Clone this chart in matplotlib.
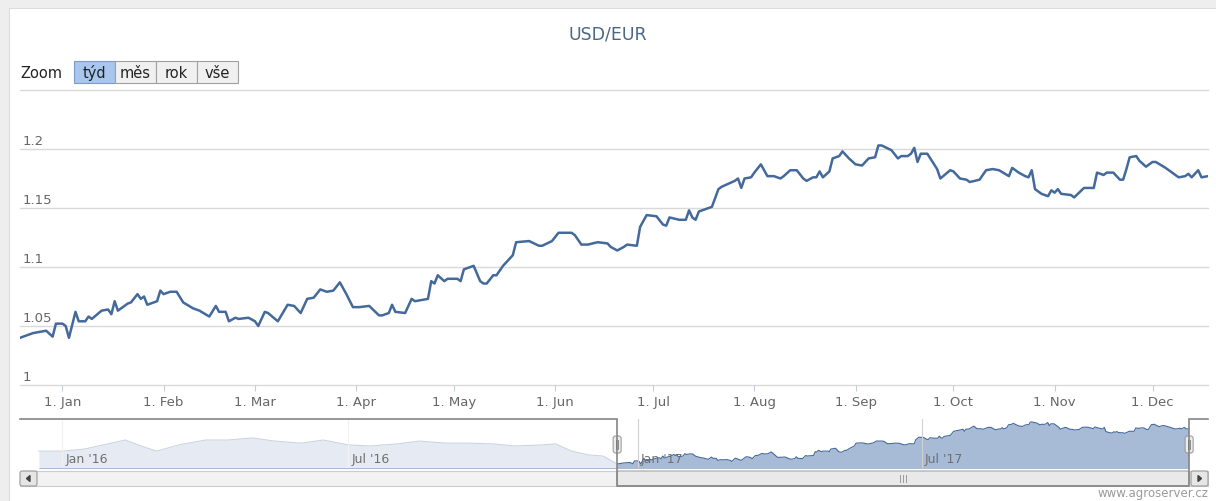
import matplotlib
matplotlib.use("Agg")
import matplotlib.pyplot as plt
import matplotlib.dates as md
from matplotlib.patches import Rectangle, FancyBboxPatch, Polygon
import pandas as pd

# EUR/USD daily rate (visible range Dec 2016 - Dec 2017)
main_dates = [
    "2016-12-19", "2016-12-21", "2016-12-23", "2016-12-27", "2016-12-29", "2016-12-30",
    "2017-01-01", "2017-01-02", "2017-01-03", "2017-01-05", "2017-01-06", "2017-01-08",
    "2017-01-09", "2017-01-10", "2017-01-13", "2017-01-15", "2017-01-16", "2017-01-17",
    "2017-01-18", "2017-01-21", "2017-01-22", "2017-01-24", "2017-01-25", "2017-01-26",
    "2017-01-27", "2017-01-29", "2017-01-30", "2017-01-31", "2017-02-01", "2017-02-03",
    "2017-02-05", "2017-02-07", "2017-02-10", "2017-02-12", "2017-02-15", "2017-02-17",
    "2017-02-18", "2017-02-20", "2017-02-21", "2017-02-23", "2017-02-24", "2017-02-27",
    "2017-03-01", "2017-03-02", "2017-03-04", "2017-03-05", "2017-03-08", "2017-03-11",
    "2017-03-13", "2017-03-15", "2017-03-17", "2017-03-19", "2017-03-21", "2017-03-23",
    "2017-03-25", "2017-03-27", "2017-03-29", "2017-03-31", "2017-04-02", "2017-04-05",
    "2017-04-08", "2017-04-09", "2017-04-11", "2017-04-12", "2017-04-13", "2017-04-16",
    "2017-04-18", "2017-04-19", "2017-04-23", "2017-04-24", "2017-04-25", "2017-04-26",
    "2017-04-28", "2017-04-29", "2017-05-02", "2017-05-03", "2017-05-04", "2017-05-07",
    "2017-05-09", "2017-05-10", "2017-05-11", "2017-05-13", "2017-05-14", "2017-05-16",
    "2017-05-19", "2017-05-20", "2017-05-24", "2017-05-27", "2017-05-28", "2017-05-31",
    "2017-06-02", "2017-06-06", "2017-06-07", "2017-06-09", "2017-06-11", "2017-06-14",
    "2017-06-17", "2017-06-18", "2017-06-20", "2017-06-22", "2017-06-23", "2017-06-26",
    "2017-06-27", "2017-06-29", "2017-07-02", "2017-07-04", "2017-07-05", "2017-07-06",
    "2017-07-09", "2017-07-11", "2017-07-12", "2017-07-13", "2017-07-14", "2017-07-15",
    "2017-07-19", "2017-07-21", "2017-07-22", "2017-07-26", "2017-07-27", "2017-07-28",
    "2017-07-29", "2017-07-31", "2017-08-01", "2017-08-03", "2017-08-05", "2017-08-07",
    "2017-08-09", "2017-08-10", "2017-08-12", "2017-08-14", "2017-08-16", "2017-08-17",
    "2017-08-19", "2017-08-20", "2017-08-21", "2017-08-22", "2017-08-24", "2017-08-25",
    "2017-08-27", "2017-08-28", "2017-08-30", "2017-09-01", "2017-09-03", "2017-09-05",
    "2017-09-07", "2017-09-08", "2017-09-09", "2017-09-12", "2017-09-14", "2017-09-15",
    "2017-09-17", "2017-09-18", "2017-09-19", "2017-09-20", "2017-09-21", "2017-09-23",
    "2017-09-26", "2017-09-27", "2017-09-30", "2017-10-01", "2017-10-03", "2017-10-05",
    "2017-10-06", "2017-10-09", "2017-10-11", "2017-10-13", "2017-10-15", "2017-10-18",
    "2017-10-19", "2017-10-21", "2017-10-23", "2017-10-24", "2017-10-25", "2017-10-26",
    "2017-10-28", "2017-10-30", "2017-10-31", "2017-11-01", "2017-11-02", "2017-11-03",
    "2017-11-06", "2017-11-07", "2017-11-10", "2017-11-13", "2017-11-14", "2017-11-16",
    "2017-11-17", "2017-11-19", "2017-11-21", "2017-11-22", "2017-11-23", "2017-11-24",
    "2017-11-26", "2017-11-27", "2017-11-29", "2017-12-01", "2017-12-02", "2017-12-05",
    "2017-12-09", "2017-12-11", "2017-12-12", "2017-12-13", "2017-12-15", "2017-12-16",
    "2017-12-18",
]
main_values = [
    1.040, 1.042, 1.044, 1.046, 1.041, 1.052,
    1.052, 1.050, 1.040, 1.062, 1.054, 1.054,
    1.058, 1.056, 1.063, 1.064, 1.060, 1.071,
    1.063, 1.069, 1.070, 1.077, 1.073, 1.075,
    1.068, 1.070, 1.071, 1.080, 1.077, 1.079,
    1.079, 1.070, 1.065, 1.063, 1.058, 1.067,
    1.062, 1.062, 1.054, 1.057, 1.056, 1.057,
    1.054, 1.050, 1.062, 1.061, 1.054, 1.068,
    1.067, 1.061, 1.073, 1.074, 1.081, 1.079,
    1.080, 1.087, 1.077, 1.066, 1.066, 1.067,
    1.059, 1.059, 1.061, 1.068, 1.062, 1.061,
    1.073, 1.071, 1.073, 1.088, 1.086, 1.093,
    1.088, 1.090, 1.090, 1.088, 1.098, 1.101,
    1.088, 1.086, 1.086, 1.093, 1.093, 1.101,
    1.110, 1.121, 1.122, 1.118, 1.118, 1.122,
    1.129, 1.129, 1.127, 1.119, 1.119, 1.121,
    1.120, 1.117, 1.114, 1.117, 1.119, 1.118,
    1.134, 1.144, 1.143, 1.136, 1.135, 1.142,
    1.140, 1.140, 1.148, 1.142, 1.140, 1.147,
    1.151, 1.166, 1.168, 1.173, 1.175, 1.167,
    1.175, 1.176, 1.180, 1.187, 1.177, 1.177,
    1.175, 1.177, 1.182, 1.182, 1.175, 1.173,
    1.176, 1.176, 1.181, 1.176, 1.181, 1.192,
    1.194, 1.198, 1.192, 1.187, 1.186, 1.192,
    1.193, 1.203, 1.203, 1.199, 1.192, 1.194,
    1.194, 1.196, 1.201, 1.189, 1.196, 1.196,
    1.183, 1.175, 1.182, 1.181, 1.175, 1.174,
    1.172, 1.174, 1.182, 1.183, 1.182, 1.177,
    1.184, 1.180, 1.177, 1.176, 1.182, 1.166,
    1.162, 1.160, 1.165, 1.163, 1.166, 1.162,
    1.161, 1.159, 1.167, 1.167, 1.180, 1.178,
    1.180, 1.180, 1.174, 1.174, 1.183, 1.193,
    1.194, 1.190, 1.185, 1.189, 1.189, 1.184,
    1.176, 1.177, 1.179, 1.176, 1.182, 1.176,
    1.177,
]

# older history only shown in the navigator
history_dates = [
    "2015-12-17", "2016-01-01", "2016-01-15", "2016-02-01", "2016-02-10", "2016-02-20",
    "2016-03-01", "2016-03-15", "2016-04-01", "2016-04-15", "2016-05-01", "2016-05-15",
    "2016-06-01", "2016-06-15", "2016-07-01", "2016-07-15", "2016-08-01", "2016-08-15",
    "2016-09-01", "2016-09-15", "2016-10-01", "2016-10-15", "2016-11-01", "2016-11-10",
    "2016-11-20", "2016-12-01", "2016-12-10",
]
history_values = [
    1.090, 1.090, 1.098, 1.121, 1.133, 1.110,
    1.090, 1.114, 1.133, 1.133, 1.141, 1.129,
    1.121, 1.133, 1.114, 1.110, 1.118, 1.129,
    1.121, 1.121, 1.118, 1.110, 1.114, 1.118,
    1.090, 1.075, 1.071,
]

y_ticks = [1.0, 1.05, 1.1, 1.15, 1.2, 1.25]
y_labels = ["1", "1.05", "1.1", "1.15", "1.2", ""]
month_ticks = ["2017-%02d-01" % m for m in range(1, 13)]
month_labels = ["1. Jan", "1. Feb", "1. Mar", "1. Apr", "1. May", "1. Jun",
                "1. Jul", "1. Aug", "1. Sep", "1. Oct", "1. Nov", "1. Dec"]
nav_ticks = ["2016-01-01", "2016-07-01", "2017-01-01", "2017-07-01"]
nav_labels = ["Jan '16", "Jul '16", "Jan '17", "Jul '17"]
nav_range = ["2015-12-05", "2017-12-30"]
zoom_buttons = ["týd", "měs", "rok", "vše"]
selected_button = 0

W, H = 1216, 502
line_color = "#44699b"
area_color = "#a7bbd6"

dates = md.date2num(pd.to_datetime(main_dates))
nav_dates = md.date2num(pd.to_datetime(history_dates + main_dates))
nav_values = history_values + main_values


def box(x0, y0, x1, y1):
    # pixel box (top-left origin) -> figure fraction
    return [x0 / W, 1 - y1 / H, (x1 - x0) / W, (y1 - y0) / H]


fig = plt.figure(figsize=(W / 100, H / 100), dpi=100, facecolor="#eeeeee")

bg = fig.add_axes([0, 0, 1, 1], zorder=0)
bg.set_xlim(0, W)
bg.set_ylim(H, 0)
bg.axis("off")
bg.add_patch(Rectangle((9, 9), W, H, facecolor="white", edgecolor="#dcdcdc", lw=0.8))

fig.text(0.5, 1 - 35 / H, "USD/EUR", ha="center", va="center", fontsize=12.5, color="#4a6787")

# range selector buttons
bg.text(20, 73, "Zoom", ha="left", va="center", fontsize=10.5, color="#222222")
bx = 74
for i, lab in enumerate(zoom_buttons):
    bw = 41
    fc = "#a9c7ee" if i == selected_button else "#f0f0f0"
    ec = "#7f9cc4" if i == selected_button else "#a0a0a0"
    bg.add_patch(Rectangle((bx, 62), bw, 22, facecolor=fc, edgecolor=ec, lw=0.8))
    bg.text(bx + bw / 2, 73, lab, ha="center", va="center", fontsize=10.5, color="#222222")
    bx += bw

# main chart
ax = fig.add_axes(box(20, 91, 1208, 386), zorder=2)
ax.set_facecolor("none")
ax.plot(dates, main_values, color=line_color, lw=1.8, solid_joinstyle="round", zorder=3)
ax.set_xlim(dates[0], dates[-1])
ax.set_ylim(y_ticks[0], y_ticks[-1])
for v in y_ticks:
    ax.axhline(v, color="#d9d9d9", lw=1.0, clip_on=False, zorder=1)
ax.set_yticks([])
ax.set_xticks(md.date2num(pd.to_datetime(month_ticks)))
ax.set_xticklabels(month_labels, fontsize=9.5, color="#666666")
ax.tick_params(axis="x", length=4, color="#c0d0e0", pad=3)
for s in ax.spines.values():
    s.set_visible(False)
for v, lab in zip(y_ticks, y_labels):
    ax.annotate(lab, xy=(0, v), xycoords=("axes fraction", "data"), xytext=(2, 1.5),
                textcoords="offset points", ha="left", va="bottom", fontsize=9.5, color="#666666")

# navigator
nav = fig.add_axes(box(20, 420, 1208, 469), zorder=2)
nav.set_facecolor("none")
lo, hi = min(nav_values), max(nav_values)
span = hi - lo
nav.set_ylim(lo - span * 4 / 42, hi + span * 3 / 42)
nx0, nx1 = md.date2num(pd.to_datetime(nav_range))
nav.set_xlim(nx0, nx1)
nav.fill_between(nav_dates, nav_values, lo - span, color=area_color, lw=0, zorder=1)
nav.plot(nav_dates, nav_values, color=line_color, lw=0.8, zorder=2)
for t in md.date2num(pd.to_datetime(nav_ticks)):
    nav.axvline(t, color="#d0d0d0", lw=0.8, zorder=3)
nav.axvspan(nx0, dates[0], color="white", alpha=0.72, lw=0, zorder=4)
nav.axvspan(dates[-1], nx1, color="white", alpha=0.72, lw=0, zorder=4)
for t, lab in zip(md.date2num(pd.to_datetime(nav_ticks)), nav_labels):
    nav.annotate(lab, xy=(t, 0), xycoords=("data", "axes fraction"), xytext=(2, 2),
                 textcoords="offset points", ha="left", va="bottom", fontsize=9,
                 color="#707070", zorder=5)
nav.set_xticks([])
nav.set_yticks([])
for s in nav.spines.values():
    s.set_visible(False)

# outline, handles and scrollbar on top
fg = fig.add_axes([0, 0, 1, 1], zorder=6)
fg.set_xlim(0, W)
fg.set_ylim(H, 0)
fg.axis("off")
fg.patch.set_visible(False)

sx0 = nav.transData.transform((dates[0], 0))[0]
sx1 = nav.transData.transform((dates[-1], 0))[0]

# scrollbar track and buttons
fg.add_patch(Rectangle((20, 472), 1188, 15, facecolor="#f2f2f2", edgecolor="#cccccc", lw=0.8))
fg.add_patch(FancyBboxPatch((sx0, 472), sx1 - sx0, 15, boxstyle="round,pad=0,rounding_size=2",
                            facecolor="#e9e9e9", edgecolor="#a6a6a6", lw=0.8))
gx = (sx0 + sx1) / 2
for dx in (-3, 0, 3):
    fg.plot([gx + dx, gx + dx], [476, 483], color="#999999", lw=0.7)
for x0 in (20, 1191):
    fg.add_patch(FancyBboxPatch((x0, 472), 17, 15, boxstyle="round,pad=0,rounding_size=2",
                                facecolor="#e6e6e6", edgecolor="#9a9a9a", lw=0.8))
fg.add_patch(Polygon([(30, 476.5), (30, 482.5), (26.5, 479.5)], closed=True, color="#444444"))
fg.add_patch(Polygon([(1198, 476.5), (1198, 482.5), (1201.5, 479.5)], closed=True, color="#444444"))

# navigator outline
fg.plot([20, sx0, sx0, sx1, sx1, 1208], [420, 420, 487, 487, 420, 420],
        color="#858585", lw=1.2, solid_joinstyle="miter")

# handles
for hx in (sx0, sx1):
    fg.add_patch(FancyBboxPatch((hx - 4, 437), 8, 17, boxstyle="round,pad=0,rounding_size=2.5",
                                facecolor="#ececec", edgecolor="#9e9e9e", lw=0.8))
    for dx in (-1.2, 1.2):
        fg.plot([hx + dx, hx + dx], [441, 450], color="#777777", lw=0.6)

fig.text(1208 / W, 1 - 494 / H, "www.agroserver.cz", ha="right", va="center",
         fontsize=8.5, color="#9a9a9a")

fig.savefig("out.png", dpi=100, facecolor=fig.get_facecolor())
